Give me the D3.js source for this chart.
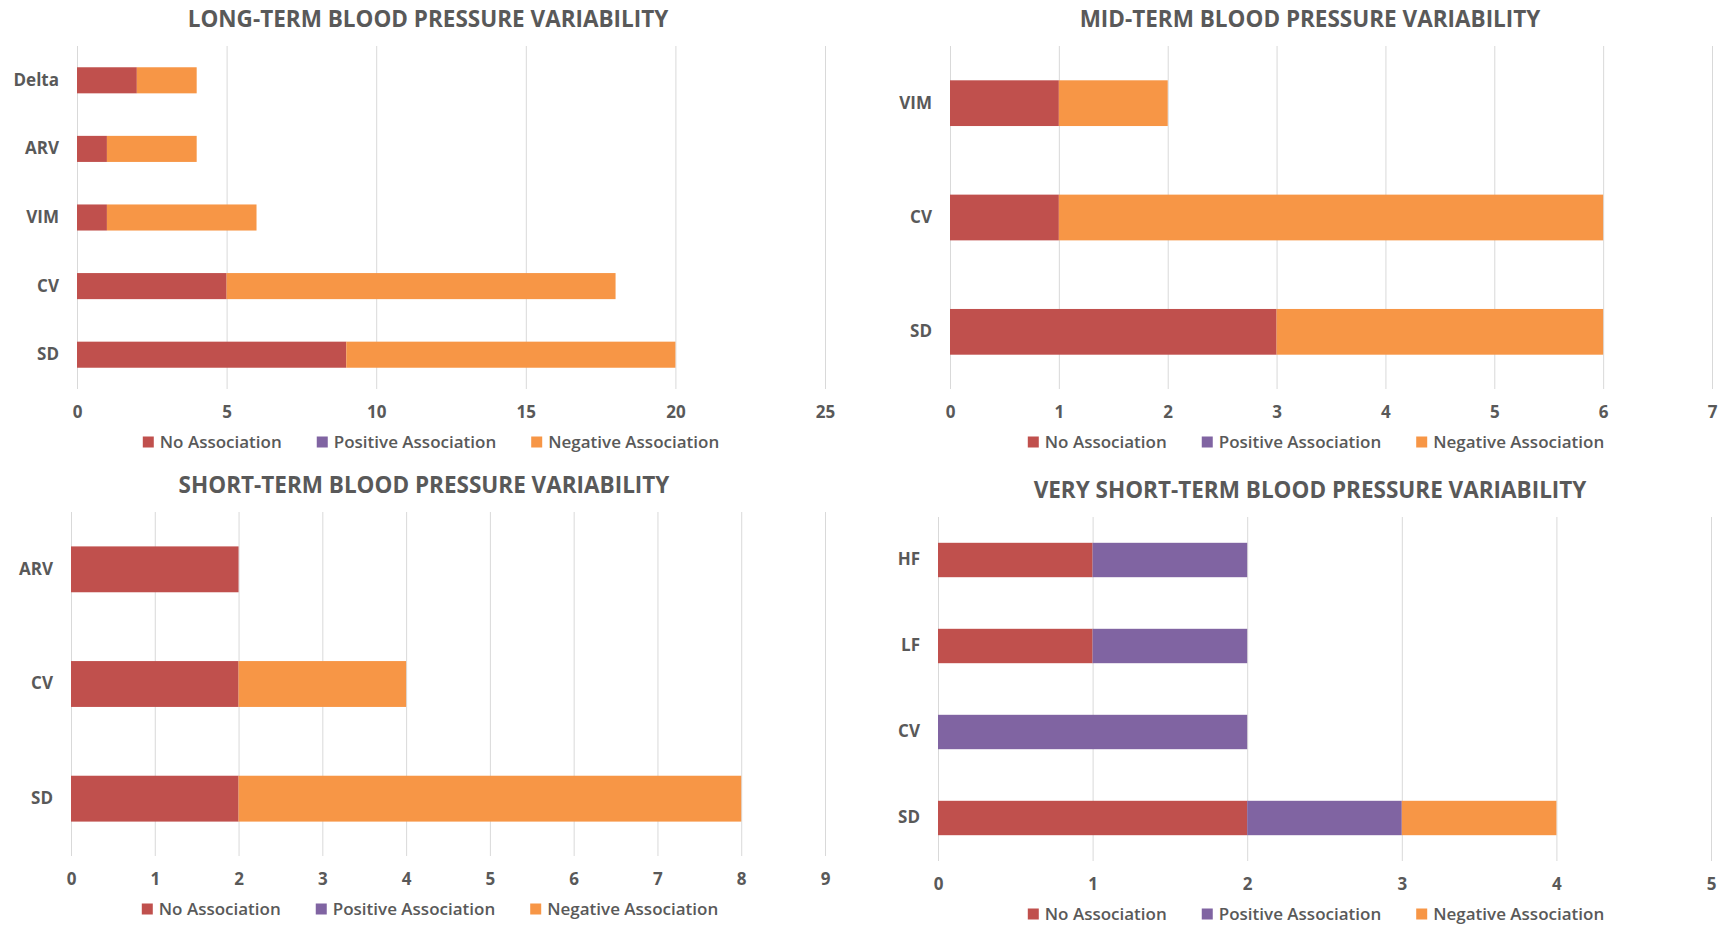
<!DOCTYPE html>
<html>
<head>
<meta charset="utf-8">
<script src="https://cdn.jsdelivr.net/npm/d3@7"></script>
<style>
  body { margin: 0; background: #fff; }
  text { font-family: "Open Sans", sans-serif; fill: #595959; }
</style>
</head>
<body>
<svg id="chart" width="1720" height="926"></svg>
<script>
// Series shared by all four panels
const seriesNames = ["No Association", "Positive Association", "Negative Association"];
const seriesColors = ["#C0504D", "#8064A2", "#F79646"];

// Long-term
const longCats = ["Delta", "ARV", "VIM", "CV", "SD"];
const longNo = [2, 1, 1, 5, 9];
const longPos = [0, 0, 0, 0, 0];
const longNeg = [2, 3, 5, 13, 11];
const longTicks = [0, 5, 10, 15, 20, 25];

// Mid-term
const midCats = ["VIM", "CV", "SD"];
const midNo = [1, 1, 3];
const midPos = [0, 0, 0];
const midNeg = [1, 5, 3];
const midTicks = [0, 1, 2, 3, 4, 5, 6, 7];

// Short-term
const shortCats = ["ARV", "CV", "SD"];
const shortNo = [2, 2, 2];
const shortPos = [0, 0, 0];
const shortNeg = [0, 2, 6];
const shortTicks = [0, 1, 2, 3, 4, 5, 6, 7, 8, 9];

// Very short-term
const vshortCats = ["HF", "LF", "CV", "SD"];
const vshortNo = [1, 1, 0, 2];
const vshortPos = [1, 1, 2, 1];
const vshortNeg = [0, 0, 0, 1];
const vshortTicks = [0, 1, 2, 3, 4, 5];

const svg = d3.select("#chart");

function drawPanel(cfg) {
  const g = svg.append("g");

  // build stacked rows from the named arrays
  const rows = cfg.cats.map((c, i) => ({
    cat: c, "No Association": cfg.no[i], "Positive Association": cfg.pos[i], "Negative Association": cfg.neg[i]
  }));
  const stacked = d3.stack().keys(seriesNames)(rows);

  const x = d3.scaleLinear()
    .domain([0, d3.max(cfg.ticks)])
    .range([cfg.left, cfg.right]);
  const y = d3.scaleBand()
    .domain(cfg.cats)
    .range([cfg.top, cfg.bottom])
    .paddingInner(cfg.pad)
    .paddingOuter(cfg.pad / 2);

  // title
  g.append("text")
    .attr("x", cfg.titleX)
    .attr("y", cfg.titleY)
    .attr("text-anchor", "middle")
    .attr("font-size", 22.5)
    .attr("font-weight", 700)
    .text(cfg.title);

  // gridlines + tick labels
  const xAxis = g.append("g")
    .attr("transform", `translate(0 ${cfg.bottom})`)
    .call(d3.axisBottom(x).tickValues(cfg.ticks).tickFormat(d3.format("d"))
      .tickSize(-(cfg.bottom - cfg.top)).tickPadding(17));
  xAxis.select(".domain").remove();
  xAxis.selectAll(".tick line").attr("stroke", "#d9d9d9").attr("stroke-width", 1);
  xAxis.selectAll(".tick text")
    .attr("font-family", "Open Sans")
    .attr("font-size", 17)
    .attr("font-weight", 700)
    .attr("fill", "#595959");

  // category labels
  const yAxis = g.append("g")
    .attr("transform", `translate(${cfg.left} 0)`)
    .call(d3.axisLeft(y).tickSize(0).tickPadding(18));
  yAxis.select(".domain").remove();
  yAxis.selectAll(".tick text")
    .attr("font-family", "Open Sans")
    .attr("font-size", 17)
    .attr("font-weight", 700)
    .attr("fill", "#595959");

  // bars
  g.selectAll(".layer")
    .data(stacked)
    .join("g")
      .attr("fill", (d, i) => seriesColors[i])
    .selectAll("rect")
    .data(d => d.filter(v => v[1] - v[0] > 0))
    .join("rect")
      .attr("x", d => x(d[0]))
      .attr("y", d => y(d.data.cat))
      .attr("width", d => x(d[1]) - x(d[0]))
      .attr("height", y.bandwidth());

  // legend, centred under the plot
  const leg = g.append("g");
  let cx = 0;
  seriesNames.forEach((name, i) => {
    const item = leg.append("g").attr("transform", `translate(${cx} 0)`);
    item.append("rect")
      .attr("x", 0).attr("y", -5.5)
      .attr("width", 11).attr("height", 11)
      .attr("fill", seriesColors[i]);
    const t = item.append("text")
      .attr("x", 17).attr("y", 0)
      .attr("dy", "0.35em")
      .attr("font-size", 17)
      .attr("font-weight", 600)
      .text(name);
    cx += 17 + t.node().getComputedTextLength() + 35;
  });
  const w = cx - 35;
  leg.attr("transform", `translate(${cfg.legendX - w / 2} ${cfg.legendY})`);
}

drawPanel({
  title: "LONG-TERM BLOOD PRESSURE VARIABILITY", titleX: 428, titleY: 27,
  cats: longCats, no: longNo, pos: longPos, neg: longNeg, ticks: longTicks,
  left: 77, right: 825, top: 46, bottom: 389, pad: 0.62,
  legendX: 431, legendY: 442
});

drawPanel({
  title: "MID-TERM BLOOD PRESSURE VARIABILITY", titleX: 1310, titleY: 27,
  cats: midCats, no: midNo, pos: midPos, neg: midNeg, ticks: midTicks,
  left: 950, right: 1712, top: 46, bottom: 389, pad: 0.6,
  legendX: 1316, legendY: 442
});

drawPanel({
  title: "SHORT-TERM BLOOD PRESSURE VARIABILITY", titleX: 424, titleY: 493,
  cats: shortCats, no: shortNo, pos: shortPos, neg: shortNeg, ticks: shortTicks,
  left: 71, right: 825, top: 512, bottom: 856, pad: 0.6,
  legendX: 430, legendY: 909
});

drawPanel({
  title: "VERY SHORT-TERM BLOOD PRESSURE VARIABILITY", titleX: 1310, titleY: 498,
  cats: vshortCats, no: vshortNo, pos: vshortPos, neg: vshortNeg, ticks: vshortTicks,
  left: 938, right: 1711, top: 517, bottom: 861, pad: 0.6,
  legendX: 1316, legendY: 914
});
</script>
</body>
</html>
